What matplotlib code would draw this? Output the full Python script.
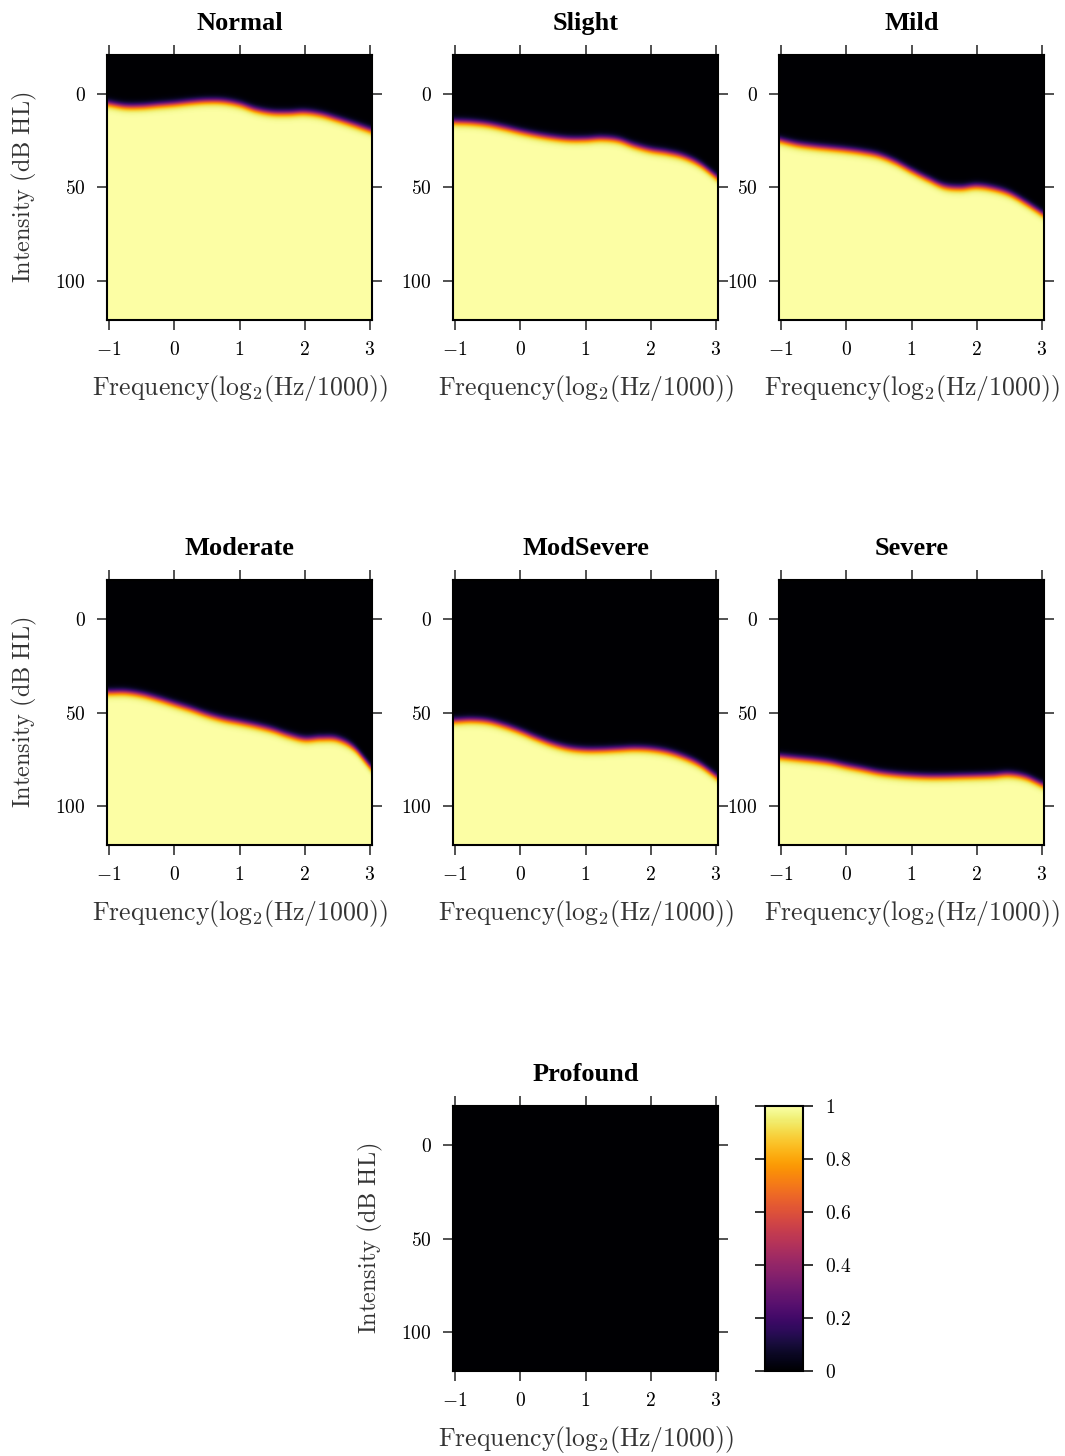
import numpy as np
import matplotlib
matplotlib.use("Agg")
import matplotlib.pyplot as plt
from matplotlib.ticker import FuncFormatter

plt.rcParams['mathtext.fontset'] = 'cm'
plt.rcParams['font.family'] = ['DejaVu Serif']

# thresholds (dB HL) read at these frequencies, log2(Hz/1000)
freqs = np.arange(-1, 3.01, 0.25)

categories = ['Normal', 'Slight', 'Mild', 'Moderate', 'ModSevere', 'Severe', 'Profound']

thr_normal = [5.0, 6.4, 6.4, 5.7, 5.0, 4.1, 3.5, 3.7, 5.3, 8.2, 9.8, 10.0, 9.6, 10.8, 13.3, 16.1, 19.1]
thr_slight = [14.7, 15.1, 16.1, 17.9, 20.0, 21.8, 23.2, 24.1, 24.1, 23.6, 24.5, 27.5, 29.8, 31.2, 33.3, 37.4, 44.0]
thr_mild = [24.8, 26.8, 28.0, 28.9, 29.8, 31.0, 32.8, 36.3, 41.0, 45.4, 49.3, 50.2, 49.3, 50.5, 53.2, 58.1, 63.8]
thr_moderate = [39.4, 39.4, 40.7, 43.0, 45.7, 48.4, 51.4, 53.8, 55.5, 57.3, 59.5, 62.4, 64.5, 64.0, 64.5, 69.0, 78.9]
thr_modsevere = [54.7, 54.3, 55.0, 57.3, 60.4, 64.0, 67.2, 69.4, 70.3, 70.3, 69.9, 69.5, 69.9, 71.3, 74.0, 78.0, 84.2]
thr_severe = [74.0, 74.9, 75.8, 77.0, 78.9, 80.6, 82.4, 83.5, 84.2, 84.6, 84.6, 84.4, 84.2, 83.9, 83.3, 84.8, 88.7]
thr_profound = [140.0] * 17

thresholds = [thr_normal, thr_slight, thr_mild, thr_moderate, thr_modsevere, thr_severe, thr_profound]

x_ticks = [-1, 0, 1, 2, 3]
y_ticks = [0, 50, 100]
cb_ticks = [0, 0.2, 0.4, 0.6, 0.8, 1]


def catmull_rom(xk, yk, xq):
    # smooth curve through the read points
    yk = np.asarray(yk, float)
    yp = np.concatenate([[2 * yk[0] - yk[1]], yk, [2 * yk[-1] - yk[-2]]])
    idx = np.clip(np.searchsorted(xk, xq) - 1, 0, len(xk) - 2)
    t = (xq - xk[idx]) / (xk[idx + 1] - xk[idx])
    p0, p1, p2, p3 = yp[idx], yp[idx + 1], yp[idx + 2], yp[idx + 3]
    return 0.5 * ((2 * p1) + (-p0 + p2) * t + (2 * p0 - 5 * p1 + 4 * p2 - p3) * t ** 2
                  + (-p0 + 3 * p1 - 3 * p2 + p3) * t ** 3)


xlim = (-1.031, 3.031)
ylim = (121, -21)
fx = np.linspace(xlim[0], xlim[1], 500)
fy = np.linspace(ylim[1], ylim[0], 500)
FX, FY = np.meshgrid(fx, fy)

fmt = FuncFormatter(lambda v, p: r'$%g$' % v)

W, H = 1065, 1456
fig = plt.figure(figsize=(W / 100, H / 100), dpi=100)


def px_axes(l, t, w, h):
    return fig.add_axes([l / W, 1 - (t + h) / H, w / W, h / H])


lefts = [107, 453, 779]
tops = [55, 580, 1106]
positions = [(lefts[0], tops[0]), (lefts[1], tops[0]), (lefts[2], tops[0]),
             (lefts[0], tops[1]), (lefts[1], tops[1]), (lefts[2], tops[1]),
             (lefts[1], tops[2])]

for name, thr, (l, t) in zip(categories, thresholds, positions):
    ax = px_axes(l, t, 265, 265)
    T = catmull_rom(freqs, thr, fx)
    Z = 1.0 / (1.0 + np.exp(-(FY - T[None, :]) / 1.05))
    im = ax.imshow(Z, cmap='inferno', vmin=0, vmax=1, aspect='auto', origin='lower',
                   extent=[xlim[0], xlim[1], ylim[1], ylim[0]], interpolation='bilinear')
    ax.set_xlim(xlim)
    ax.set_ylim(ylim)
    ax.set_xticks(x_ticks)
    ax.set_yticks(y_ticks)
    ax.xaxis.set_major_formatter(fmt)
    ax.yaxis.set_major_formatter(fmt)
    ax.tick_params(direction='out', top=True, right=True, length=7.2, width=1.1,
                   labelsize=14, pad=8, color='#222222')
    for s in ax.spines.values():
        s.set_linewidth(1.5)
    ax.set_title(name, y=1.0, pad=18, fontsize=19, fontweight='bold',
                 family='Liberation Serif')
    ax.set_xlabel(r'$\mathrm{Frequency}(\mathrm{log}_2(\mathrm{Hz}/1000))$', fontsize=18.5,
                  labelpad=10, color='#333333')
    if l == lefts[0] or name == 'Profound':
        ax.set_ylabel(r'$\mathrm{Intensity\ (dB\ HL)}$', fontsize=17.5, labelpad=12,
                      color='#333333')

cax = px_axes(765, 1106, 38, 265)
cb = fig.colorbar(im, cax=cax, ticks=cb_ticks)
cb.ax.yaxis.set_major_formatter(fmt)
cb.outline.set_linewidth(1.5)
cax.tick_params(direction='out', left=True, right=True, length=7.5, width=1.1,
                labelsize=14, pad=8)

fig.savefig('out.png', dpi=100)
